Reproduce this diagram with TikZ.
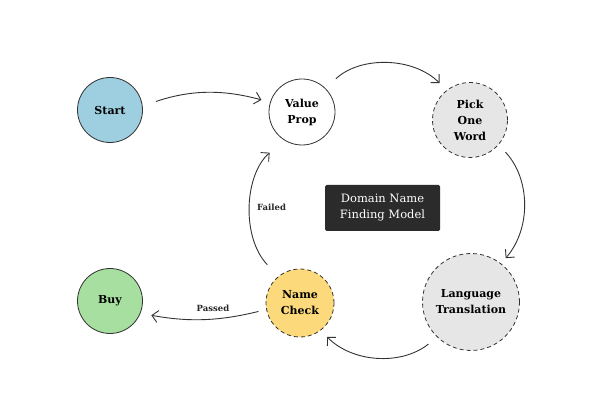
\documentclass[tikz,border=0pt]{standalone}
\usepackage{fontspec}
\setmainfont{DejaVu Serif}
\usetikzlibrary{arrows.meta}
\definecolor{startc}{HTML}{9ECFE0}
\definecolor{buyc}{HTML}{A6DFA0}
\definecolor{checkc}{HTML}{FCD97A}
\definecolor{greyc}{HTML}{E6E6E6}
\definecolor{boxc}{HTML}{2B2B2B}
\definecolor{linec}{HTML}{333333}
\begin{document}
\begin{tikzpicture}[x=1pt,y=-1pt,
  st/.style={circle,draw=linec,line width=0.8pt,align=center,font=\fontsize{11}{16}\selectfont\bfseries,inner sep=0pt},
  dsh/.style={dash pattern=on 4pt off 3pt},
  conn/.style={draw=linec,line width=0.9pt,-{Straight Barb[length=6pt,width=12pt]}},
  lab/.style={font=\fontsize{8.5}{10}\selectfont\bfseries,text=black!85}]
\useasboundingbox (0,0) rectangle (600,414);
\node[st,fill=startc,minimum size=65pt] (start) at (110,110) {Start};
\node[st,fill=white,minimum size=66pt] (vp) at (302,112) {Value\\Prop};
\node[st,fill=greyc,dsh,minimum size=75pt] (pick) at (470,120) {Pick\\One\\Word};
\node[st,fill=greyc,dsh,minimum size=97pt] (lang) at (471,302) {Language\\Translation};
\node[st,fill=checkc,dsh,minimum size=68pt] (nc) at (300,303) {Name\\Check};
\node[st,fill=buyc,minimum size=65pt] (buy) at (110,301) {Buy};
\node[fill=boxc,text=white,rounded corners=1.5pt,minimum width=115pt,minimum height=46pt,align=center,font=\fontsize{11.5}{16}\selectfont] (model) at (382.5,208) {Domain Name\\Finding Model};
\draw[conn,shorten <=14pt,shorten >=9pt] (start.7) to[bend left=17] (vp.163);
\draw[conn,shorten <=14pt,shorten >=10pt] (vp.45) to[bend left=44] (pick.128);
\draw[conn,shorten <=10pt,shorten >=7pt] (pick.-41) to[bend left=42] (lang.52);
\draw[conn,shorten <=11pt,shorten >=9pt] (lang.226) to[bend left=42] (nc.-53);
\draw[conn,shorten <=8pt,shorten >=11pt] (nc.191) to[bend left=12] node[lab,above=3pt,pos=0.42] {Passed} (buy.-22);
\draw[conn,shorten <=16pt,shorten >=19pt] (nc.129) to[bend left=46] node[lab,right=1pt,pos=0.5] {Failed} (vp.237);
\end{tikzpicture}
\end{document}
